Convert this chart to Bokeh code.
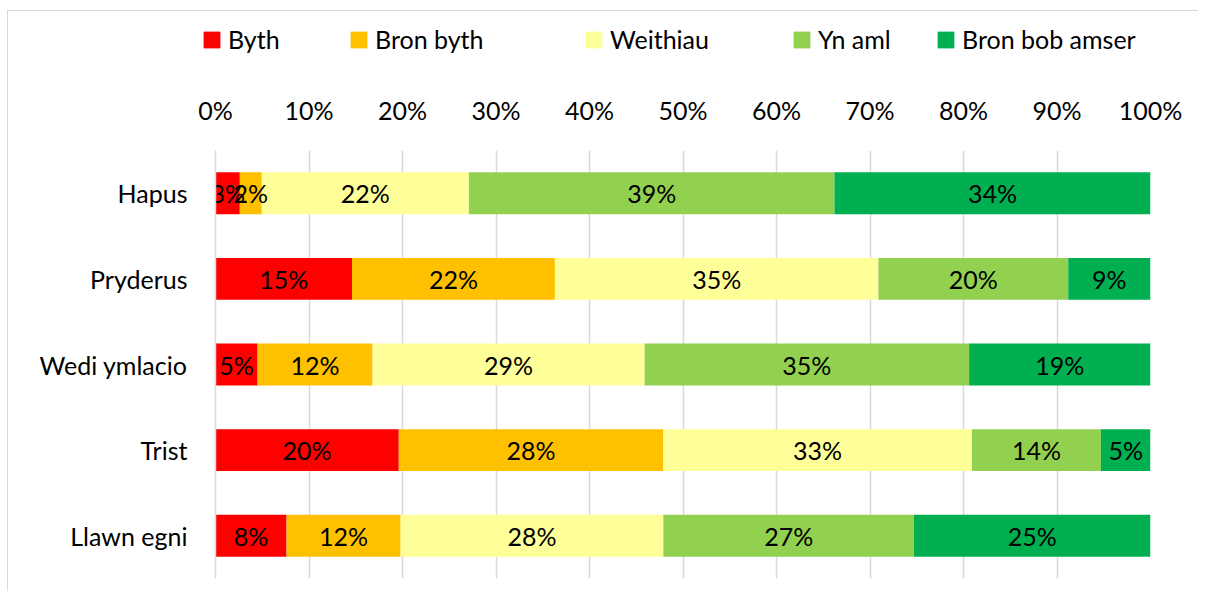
import math
from bokeh.plotting import figure
from bokeh.layouts import column
from bokeh.models import (ColumnDataSource, Legend, LegendItem, FixedTicker,
                          Range1d, FactorRange)
from bokeh.embed import file_html
from bokeh.resources import INLINE
from bokeh.core.properties import value

# ---------------- data ----------------
categories = ["Hapus", "Pryderus", "Wedi ymlacio", "Trist", "Llawn egni"]
series = ["Byth", "Bron byth", "Weithiau", "Yn aml", "Bron bob amser"]
byth = [2.6, 14.6, 4.5, 19.6, 7.6]
bron_byth = [2.35, 21.7, 12.3, 28.3, 12.2]
weithiau = [22.15, 34.6, 29.1, 33.0, 28.1]
yn_aml = [39.1, 20.3, 34.7, 13.8, 26.8]
bron_bob_amser = [33.8, 8.8, 19.4, 5.3, 25.3]
colors = ["#FF0000", "#FFC000", "#FFFF99", "#92D050", "#00B050"]
tick_values = [0, 10, 20, 30, 40, 50, 60, 70, 80, 90, 100]
tick_labels = ["0%", "10%", "20%", "30%", "40%", "50%", "60%", "70%", "80%", "90%", "100%"]

FONT = "Lato"
FS = "25px"
GRID = "#D9D9D9"

values = [byth, bron_byth, weithiau, yn_aml, bron_bob_amser]
data = {"cat": categories}
for s, v in zip(series, values):
    data[s] = v
src = ColumnDataSource(data)

# label positions
lx, ly, lt = [], [], []
for i, c in enumerate(categories):
    left = 0.0
    for v in values:
        val = v[i]
        lx.append(left + val / 2.0)
        ly.append(c)
        lt.append(f"{int(math.floor(val + 0.5))}%")
        left += val
lsrc = ColumnDataSource(dict(x=lx, y=ly, text=lt))

# ---------------- legend strip ----------------
lf = figure(width=1190, height=60, x_range=Range1d(0, 1), y_range=Range1d(0, 1),
            output_backend="svg", toolbar_location=None,
            min_border_left=0, min_border_right=0, min_border_top=0, min_border_bottom=0)
lf.frame_align = False
lf.axis.visible = False
lf.grid.visible = False
lf.outline_line_color = None
legend_x = [193, 340, 575, 783, 927]
for s, c, lxp in zip(series, colors, legend_x):
    # zero-width swatch renderer (not visible in the strip, only used by the legend)
    r = lf.hbar(y=[0], left=[0], right=[0], height=0.5, color=c, line_width=0)
    lg = Legend(items=[LegendItem(label=s, renderers=[r])],
                orientation="horizontal", location=(lxp, 17),
                glyph_width=21, glyph_height=21, label_standoff=6,
                label_text_font=FONT, label_text_font_size=FS,
                label_text_color="black", border_line_color=None,
                background_fill_alpha=0, padding=0, margin=0)
    lf.add_layout(lg, "center")

# ---------------- main chart ----------------
p = figure(width=1190, height=520,
           x_range=Range1d(0, 100),
           y_range=FactorRange(factors=list(reversed(categories)), range_padding=0),
           x_axis_location="above",
           output_backend="svg", toolbar_location=None,
           min_border_left=207, min_border_right=48,
           min_border_top=79, min_border_bottom=13)
p.frame_align = False

renderers = p.hbar_stack(series, y="cat", height=0.49, color=colors,
                         line_width=0, line_color=None, source=src)

p.text(x="x", y="y", text="text", source=lsrc, text_align="center",
       text_baseline="middle", text_font=value(FONT), text_font_size=FS,
       text_color="black")

xa = p.xaxis[0]
xa.ticker = FixedTicker(ticks=tick_values)
xa.major_label_overrides = {v: l for v, l in zip(tick_values, tick_labels)}
xa.axis_line_color = None
xa.major_tick_line_color = None
xa.minor_tick_line_color = None
xa.major_tick_out = 0
xa.major_label_standoff = 26
xa.major_label_text_font = FONT
xa.major_label_text_font_size = FS
xa.major_label_text_color = "black"

ya = p.yaxis[0]
ya.axis_line_color = GRID
ya.axis_line_width = 1.5
ya.major_tick_line_color = None
ya.minor_tick_line_color = None
ya.major_tick_out = 0
ya.major_label_standoff = 28
ya.major_label_text_font = FONT
ya.major_label_text_font_size = FS
ya.major_label_text_color = "black"

p.xgrid.grid_line_color = GRID
p.xgrid.grid_line_width = 1.5
p.xgrid.ticker = FixedTicker(ticks=tick_values)
p.ygrid.grid_line_color = None
p.outline_line_color = None

layout = column(lf, p, spacing=0)
layout.styles = {"margin-left": "7px", "margin-top": "10px",
                 "border-top": "1px solid #D9D9D9", "border-left": "1px solid #D9D9D9"}

open("out.html", "w").write(file_html(layout, INLINE))
